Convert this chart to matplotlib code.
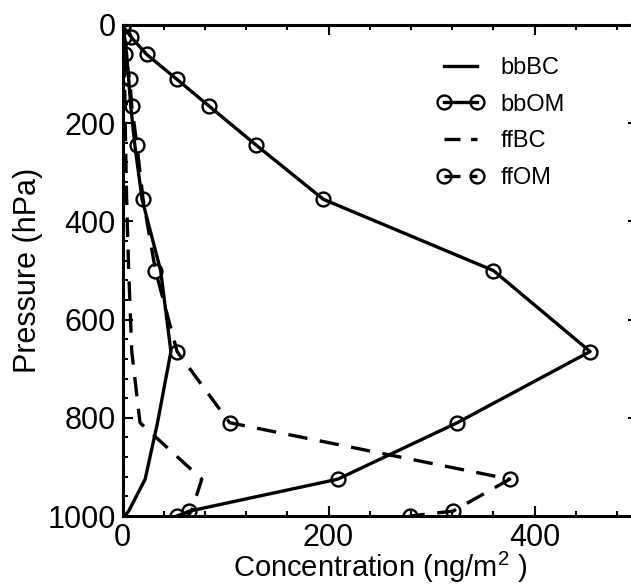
import matplotlib
matplotlib.use("Agg")
import matplotlib.pyplot as plt
from matplotlib.ticker import MultipleLocator

plt.rcParams['font.family'] = ['Liberation Sans', 'DejaVu Sans']
plt.rcParams['mathtext.fontset'] = 'custom'
plt.rcParams['mathtext.rm'] = 'Liberation Sans'
plt.rcParams['mathtext.it'] = 'Liberation Sans'
plt.rcParams['lines.scale_dashes'] = False

# Data (pressure levels in hPa, concentrations in ng/m^2)
pressure = [2, 25, 60, 110, 165, 245, 355, 500, 665, 810, 925, 990, 1000]
bbBC = [0, 2, 4, 6, 8, 12, 19, 37, 47, 34, 22, 6, 2]
bbOM = [0.5, 8.5, 23.5, 52.5, 84, 130, 195, 360, 454, 325, 209, 65, 53]
ffBC = [0, 1, 1.5, 2, 2.5, 3, 4, 6, 9, 17, 77, 67, 63]
ffOM = [0, 1, 2.5, 7, 9, 14, 20, 32, 53, 104, 376, 321, 279]

W, H = 631, 587
fig = plt.figure(figsize=(W / 100, H / 100), dpi=100)
ax = fig.add_axes([122.5 / W, 1 - 516 / H, (637.5 - 122.5) / W, (516 - 25) / H])

lw = 2.4
dash = (14, 9)
mk = dict(marker='o', markersize=10, markerfacecolor='none', markeredgecolor='black', markeredgewidth=1.7)

ax.plot(bbBC, pressure, color='black', lw=lw, label='bbBC')
ax.plot(bbOM, pressure, color='black', lw=lw, label='bbOM', **mk)
ax.plot(ffBC, pressure, color='black', lw=lw, dashes=dash, label='ffBC')
ax.plot(ffOM, pressure, color='black', lw=lw, dashes=dash, label='ffOM', **mk)

ax.set_xlim(0, 500)
ax.set_ylim(1000, 0)
ax.xaxis.set_major_locator(MultipleLocator(200))
ax.xaxis.set_minor_locator(MultipleLocator(40))
ax.yaxis.set_major_locator(MultipleLocator(200))
ax.yaxis.set_minor_locator(MultipleLocator(40))
ax.tick_params(which='both', direction='in', top=True, right=True, width=1.5, color='black')
ax.tick_params(which='major', length=7.2, labelsize=22, pad=5)
ax.tick_params(which='minor', length=3.6)
for s in ax.spines.values():
    s.set_linewidth(2.2)

ax.set_xlabel(r'Concentration (ng/m$^2$ )', fontsize=21, labelpad=-2)
ax.set_ylabel('Pressure (hPa)', fontsize=22, labelpad=3)

leg = ax.legend(loc='upper left', bbox_to_anchor=(437 / W, 1 - 57 / H), bbox_transform=fig.transFigure,
                frameon=False, fontsize=17, numpoints=2, handlelength=2.0, handletextpad=0.7,
                labelspacing=0.62, borderpad=0, borderaxespad=0)
for ln in leg.get_lines():
    if ln.get_linestyle() == '--':
        ln.set_dashes((11.5, 7.5))

fig.savefig('out.png', dpi=100)
